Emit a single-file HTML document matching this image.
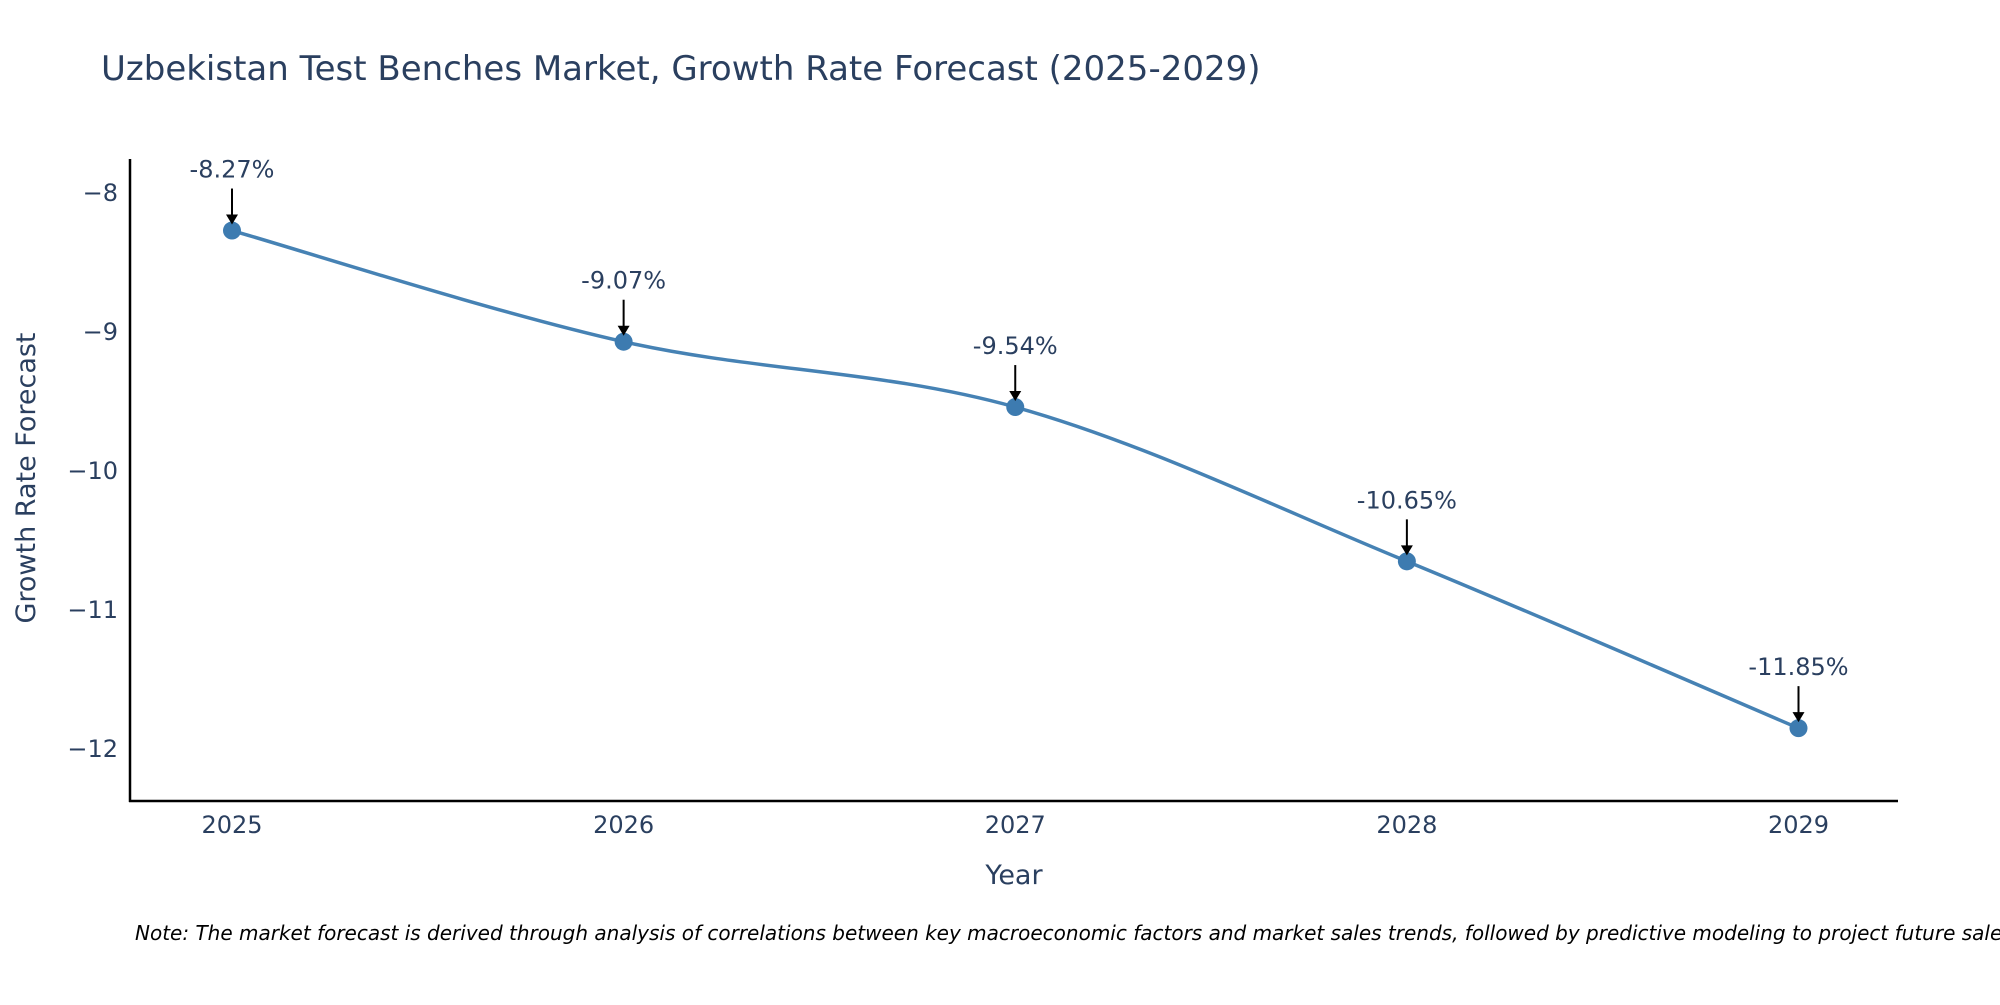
<!DOCTYPE html>
<html><head><meta charset="utf-8"><style>
body{margin:0;background:#fff;}
svg text{font-family:"DejaVu Sans","Liberation Sans",sans-serif;fill:#2a3f5f;}
</style></head><body>
<svg id="chart" width="2000" height="1000" xmlns="http://www.w3.org/2000/svg">
<rect width="2000" height="1000" fill="#fff"/>
<text x="101" y="80" font-size="34">Uzbekistan Test Benches Market, Growth Rate Forecast (2025-2029)</text>
<g id="yticks"></g>
<g id="xticks"></g>
<line x1="130" y1="159" x2="130" y2="802" stroke="#000" stroke-width="2.5"/>
<line x1="129" y1="801" x2="1898" y2="801" stroke="#000" stroke-width="2.5"/>
<path id="line" fill="none" stroke="#4682b4" stroke-width="3.5"/>
<g id="points"></g>
<g id="annots"></g>
<text x="1014" y="884" font-size="27" text-anchor="middle">Year</text>
<text transform="translate(35,478) rotate(-90)" font-size="27" text-anchor="middle">Growth Rate Forecast</text>
<text x="135" y="940" font-size="20" font-style="italic" style="fill:#000">Note: The market forecast is derived through analysis of correlations between key macroeconomic factors and market sales trends, followed by predictive modeling to project future sales.</text>
</svg>
<script>
const years=[2025,2026,2027,2028,2029];
const values=[-8.27,-9.07,-9.54,-10.65,-11.85];
const labels=["-8.27%","-9.07%","-9.54%","-10.65%","-11.85%"];
const yTicks=[-8,-9,-10,-11,-12];
const NS="http://www.w3.org/2000/svg";
function xs(v){return 232+(v-2025)*(1798.5-232)/4;}
function ys(v){return 193+(-8-v)*139;}
function mk(tag,attrs,parent){const e=document.createElementNS(NS,tag);for(const k in attrs)e.setAttribute(k,attrs[k]);parent.appendChild(e);return e;}
const yg=document.getElementById('yticks');
yTicks.forEach(t=>{const e=mk('text',{x:118,y:ys(t)+8,'font-size':24,'text-anchor':'end'},yg);e.textContent='\u2212'+Math.abs(t);

});
const xg=document.getElementById('xticks');
years.forEach(t=>{const e=mk('text',{x:xs(t),y:833,'font-size':24,'text-anchor':'middle'},xg);e.textContent=t;

});
const P=years.map((y,i)=>[xs(y),ys(values[i])]);
let d='M'+P[0][0]+','+P[0][1];
for(let i=0;i<P.length-1;i++){const p0=P[Math.max(0,i-1)],p1=P[i],p2=P[i+1],p3=P[Math.min(P.length-1,i+2)];
const c1=[p1[0]+(p2[0]-p0[0])/6,p1[1]+(p2[1]-p0[1])/6],c2=[p2[0]-(p3[0]-p1[0])/6,p2[1]-(p3[1]-p1[1])/6];
d+=` C${c1[0]},${c1[1]} ${c2[0]},${c2[1]} ${p2[0]},${p2[1]}`;}
document.getElementById('line').setAttribute('d',d);
const pg=document.getElementById('points'),ag=document.getElementById('annots');
P.forEach((p,i)=>{const c=mk('circle',{cx:p[0],cy:p[1],r:9,fill:'#3d7bb0'},pg);


const l=mk('line',{x1:p[0],y1:p[1]-42,x2:p[0],y2:p[1]-14,stroke:'#000','stroke-width':2},ag);


const a=mk('polygon',{points:`${p[0]-6},${p[1]-16} ${p[0]+6},${p[1]-16} ${p[0]},${p[1]-6}`,fill:'#000'},ag);


const t=mk('text',{x:p[0],y:p[1]-53,'font-size':24,'text-anchor':'middle'},ag);t.textContent=labels[i];

});
</script>
</body></html>
